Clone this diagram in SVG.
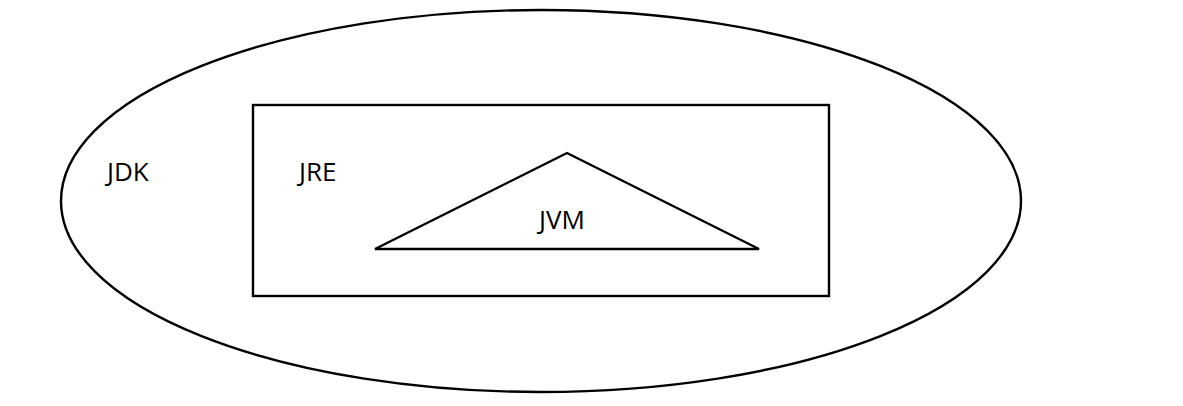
<svg xmlns="http://www.w3.org/2000/svg" width="1183" height="406" viewBox="0 0 1183 406">
<style>
.s{fill:none;stroke:#000;stroke-width:2.4}
.t{font-family:"Open Sans",sans-serif;font-size:26px;fill:#000}
</style>
<rect width="1183" height="406" fill="#fff"/>
<g id="jdk"><ellipse class="s" cx="541" cy="201" rx="480" ry="191"/><text class="t" x="107" y="181">JDK</text></g>
<g id="jre"><rect class="s" x="253" y="105" width="576" height="191"/><text class="t" x="299" y="181">JRE</text></g>
<g id="jvm"><polygon class="s" points="375,249 567,153 759,249"/><text class="t" x="539" y="229">JVM</text></g>
<g id="connectors"/>
</svg>
